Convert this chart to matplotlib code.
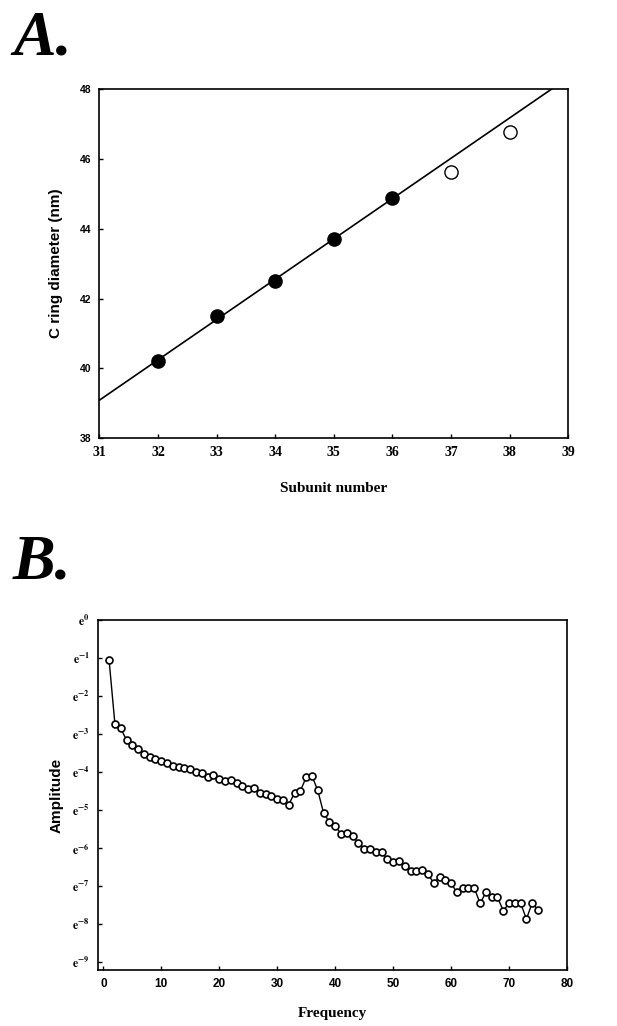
import numpy as np
import matplotlib
matplotlib.use("Agg")
import matplotlib.pyplot as plt

plt.rcParams['mathtext.fontset'] = 'stix'

# panel A data
sub_fit = [32, 33, 34, 35, 36]
diam_fit = [40.20, 41.49, 42.50, 43.71, 44.87]
sub_open = [37, 38]
diam_open = [45.63, 46.78]

# panel B data (natural log of amplitude)
freq = list(range(1, 76))
log_amp = [-1.06, -2.73, -2.85, -3.15, -3.29, -3.40, -3.53, -3.59, -3.66, -3.70,
           -3.77, -3.84, -3.87, -3.88, -3.92, -3.99, -4.02, -4.13, -4.07, -4.19,
           -4.23, -4.21, -4.29, -4.37, -4.44, -4.42, -4.54, -4.57, -4.63, -4.70,
           -4.73, -4.85, -4.54, -4.49, -4.13, -4.10, -4.48, -5.07, -5.31, -5.41,
           -5.62, -5.61, -5.68, -5.86, -6.01, -6.01, -6.09, -6.09, -6.29, -6.35,
           -6.33, -6.46, -6.60, -6.60, -6.58, -6.67, -6.92, -6.75, -6.83, -6.92,
           -7.16, -7.04, -7.04, -7.04, -7.45, -7.16, -7.29, -7.29, -7.64, -7.45,
           -7.45, -7.45, -7.86, -7.43, -7.63]

serif = 'Liberation Serif'
sans = 'Liberation Sans'

fig = plt.figure(figsize=(6.17, 10.26), dpi=100)

# ---- A ----
ax1 = fig.add_axes([0.161, 0.573, 0.760, 0.340])
slope, icpt = np.polyfit(sub_fit, diam_fit, 1)
xl = np.array([31, 39])
ax1.plot(xl, slope * xl + icpt, color='black', lw=1.2)
ax1.plot(sub_fit, diam_fit, 'o', color='black', ms=9.5)
ax1.plot(sub_open, diam_open, 'o', mfc='white', mec='black', mew=1.0, ms=9.5)
ax1.set_xlim(31, 39)
ax1.set_ylim(38, 48)
ax1.set_xticks(range(31, 40))
ax1.set_yticks(range(38, 49, 2))
ax1.tick_params(direction='in', length=3, width=1, pad=6)
for t in ax1.get_xticklabels():
    t.set_fontfamily(serif); t.set_fontweight('bold'); t.set_fontsize(10)
for t in ax1.get_yticklabels():
    t.set_fontfamily(sans); t.set_fontweight('bold'); t.set_fontsize(7.5)
ax1.set_xlabel('Subunit number', fontfamily=serif, fontweight='bold', fontsize=11, labelpad=16)
ax1.set_ylabel('C ring diameter (nm)', fontfamily=sans, fontweight='bold', fontsize=11, labelpad=12)
for s in ax1.spines.values():
    s.set_linewidth(1.2)

# ---- B ----
ax2 = fig.add_axes([0.159, 0.0546, 0.760, 0.341])
ax2.plot(freq, log_amp, '-o', color='black', lw=1.0, mfc='white', mec='black', mew=1.2, ms=5)
ax2.set_xlim(-0.9, 80)
ax2.set_ylim(-9.2, 0)
ax2.set_xticks(range(0, 81, 10))
ax2.set_yticks(range(0, -10, -1))
ax2.set_yticklabels([r'$\mathbf{e^{%d}}$' % v for v in range(0, -10, -1)])
ax2.tick_params(direction='in', length=3, width=1, pad=6)
for t in ax2.get_xticklabels():
    t.set_fontfamily(sans); t.set_fontweight('bold'); t.set_fontsize(8.5)
for t in ax2.get_yticklabels():
    t.set_fontsize(8.5)
ax2.set_xlabel('Frequency', fontfamily=serif, fontweight='bold', fontsize=11, labelpad=12)
ax2.set_ylabel('Amplitude', fontfamily=sans, fontweight='bold', fontsize=11, labelpad=6)
for s in ax2.spines.values():
    s.set_linewidth(1.2)

fig.text(0.021, 0.947, 'A.', fontfamily=serif, fontweight='bold', fontstyle='italic', fontsize=46)
fig.text(0.021, 0.436, 'B.', fontfamily=serif, fontweight='bold', fontstyle='italic', fontsize=46)

fig.savefig('out.png', dpi=100)
